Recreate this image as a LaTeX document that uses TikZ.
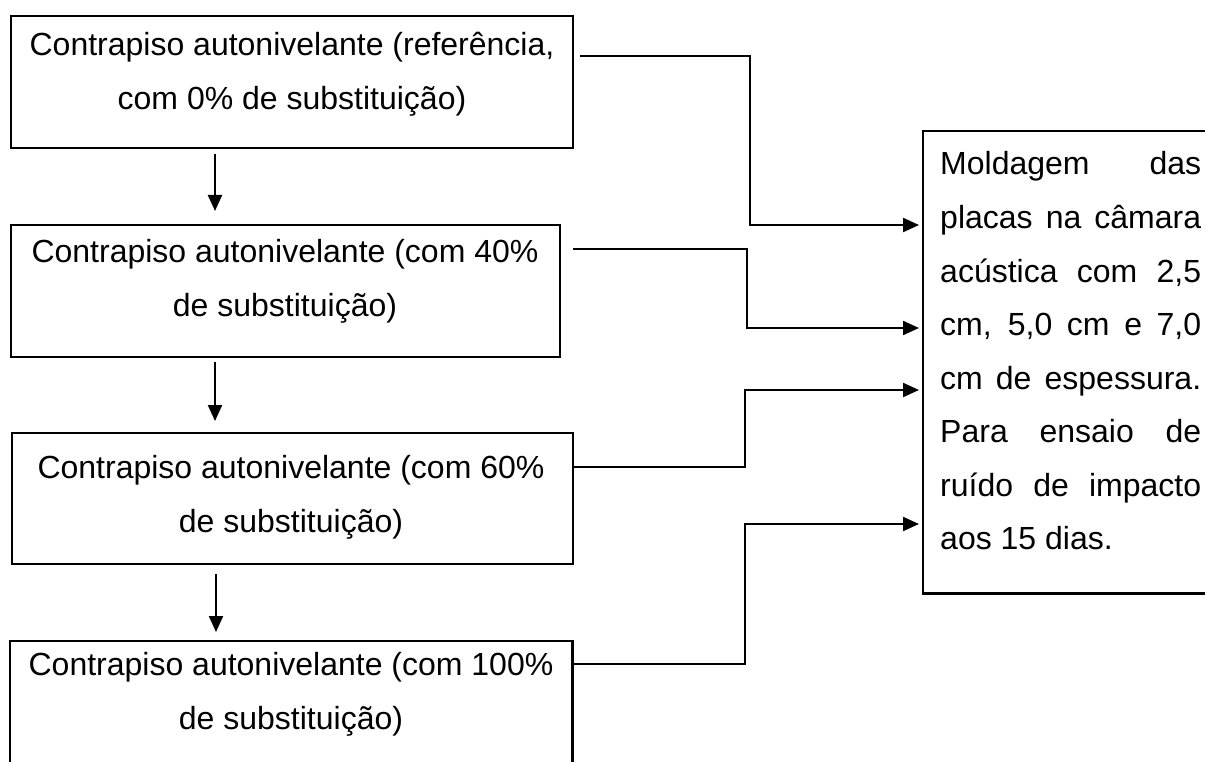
\documentclass[tikz,border=0pt]{standalone}
\usepackage{fontspec}
\setmainfont{Liberation Sans}
\usetikzlibrary{arrows.meta}
\begin{document}
\begin{tikzpicture}[x=1pt,y=-1pt,
  box/.style={draw, line width=2.4pt, inner sep=0pt, anchor=north west},
  openbox/.style={inner sep=0pt, anchor=north west},
  txt/.style={inner sep=0pt, anchor=base, font=\fontsize{32}{54}\selectfont},
  rtxt/.style={inner sep=0pt, anchor=base west, font=\fontsize{32}{54}\selectfont},
  conn/.style={line width=2.2pt, -{Triangle[length=16pt,width=14pt]}},
  wire/.style={line width=2.4pt}]
\useasboundingbox (0,0) rectangle (1205,762);
\clip (0,0) rectangle (1205,762);
% left boxes
\node[box, minimum width=562pt, minimum height=132pt] (b1) at (10,15) {};
\node[box, minimum width=549pt, minimum height=132pt] (b2) at (10,224) {};
\node[box, minimum width=561pt, minimum height=131pt] (b3) at (11,432) {};
\node[openbox, minimum width=562pt, minimum height=140pt] (b4) at (10,641) {};
\draw[wire] (b4.south west) -- (b4.north west) -- (b4.north east) -- (b4.south east);
% right box
\node[openbox, minimum width=300pt, minimum height=462pt] (r) at (923,131) {};
\draw[wire] (r.north east) -- (r.north west) -- (r.south west) -- (r.south east);
% left texts
\node[txt] (t1a) at (292,56) {Contrapiso autonivelante (referência,};
\node[txt] (t1b) at (292,110) {com 0\% de substituição)};
\node[txt] (t2a) at (285,262) {Contrapiso autonivelante (com 40\%};
\node[txt] (t2b) at (285,316) {de substituição)};
\node[txt] (t3a) at (291,478) {Contrapiso autonivelante (com 60\%};
\node[txt] (t3b) at (291,532) {de substituição)};
\node[txt] (t4a) at (291,675) {Contrapiso autonivelante (com 100\%};
\node[txt] (t4b) at (291,729) {de substituição)};
% right text
\node[rtxt] (r1) at (940,175) {\makebox[261pt][s]{Moldagem das}};
\node[rtxt] (r2) at (940,228.5) {\makebox[261pt][s]{placas na câmara}};
\node[rtxt] (r3) at (940,282) {\makebox[261pt][s]{acústica com 2,5}};
\node[rtxt] (r4) at (940,335.5) {\makebox[261pt][s]{cm, 5,0 cm e 7,0}};
\node[rtxt] (r5) at (940,389) {\makebox[261pt][s]{cm de espessura.}};
\node[rtxt] (r6) at (940,442.5) {\makebox[261pt][s]{Para ensaio de}};
\node[rtxt] (r7) at (940,496) {\makebox[261pt][s]{ruído de impacto}};
\node[rtxt] (r8) at (940,549.5) {aos 15 dias.};
% vertical arrows
\coordinate (a1s) at (215,154); \coordinate (a1e) at (215,211);
\coordinate (a2s) at (215,362); \coordinate (a2e) at (215,421);
\coordinate (a3s) at (216,574); \coordinate (a3e) at (216,632);
\draw[conn] (a1s) -- (a1e);
\draw[conn] (a2s) -- (a2e);
\draw[conn] (a3s) -- (a3e);
% connectors to the right box
\coordinate (s1) at (580,56);  \coordinate (k1) at (750,225);
\coordinate (s2) at (573,249); \coordinate (k2) at (747,328);
\coordinate (s3) at (572,467); \coordinate (k3) at (745,390);
\coordinate (s4) at (572,664); \coordinate (k4) at (745,524);
\draw[conn] (s1) -| (k1) -- ([xshift=-4pt]r.west |- k1);
\draw[conn] (s2) -| (k2) -- ([xshift=-4pt]r.west |- k2);
\draw[conn] (s3) -| (k3) -- ([xshift=-4pt]r.west |- k3);
\draw[conn] (s4) -| (k4) -- ([xshift=-4pt]r.west |- k4);
\end{tikzpicture}
\end{document}
